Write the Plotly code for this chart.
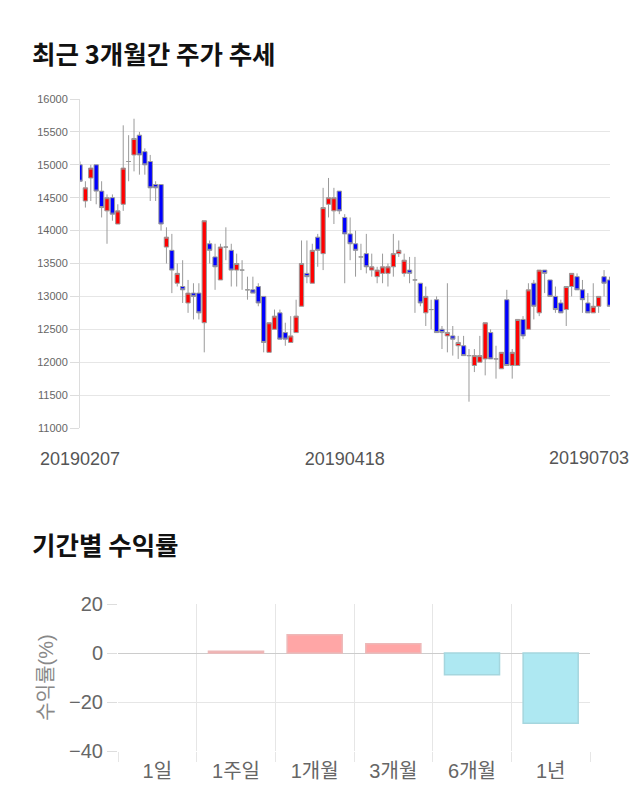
import plotly.graph_objects as go

# ---- Candlestick data (daily, 20190207 .. 20190703) ----
opens = [15000, 14450, 14800, 15000, 14600, 14300, 14500, 14100, 14400, 15050,
         15150, 15450, 15200, 15050, 14700, 14700, 13750, 13700, 13200, 13150,
         12900, 13050, 13050, 12600, 13800, 13600, 13250, 13750, 13700, 13400,
         13400, 13100, 13100, 13150, 13000, 12150, 12500, 12750, 12450, 12300,
         12450, 12850, 13350, 13200, 13900, 13650, 14400, 14300, 14600, 14200,
         13950, 13800, 13600, 13650, 13400, 13300, 13350, 13350, 13450, 13650,
         13350, 13400, 13250, 13200, 12750, 12800, 12950, 12500, 12400, 12400,
         12250, 12250, 12100, 11950, 12000, 12050, 12450, 12050, 11900, 12950,
         11950, 11950, 12650, 12500, 13200, 12750, 13400, 13250, 13000, 12900,
         12800, 13150, 13300, 13100, 12900, 12750, 12850, 13300, 13250]
highs = [15050, 14750, 15000, 15000, 14750, 14550, 14550, 14400, 15600, 15450,
         15700, 15500, 15250, 15150, 14750, 14700, 14050, 13950, 13500, 13550,
         13250, 13200, 13200, 14150, 13850, 13800, 13800, 14050, 13800, 13650,
         13550, 13300, 13300, 13200, 13000, 12600, 12800, 12800, 12600, 12700,
         12950, 13850, 13850, 13800, 13950, 14650, 14800, 14650, 14600, 14250,
         14200, 14000, 13800, 13950, 13650, 13450, 13650, 13500, 13950, 13850,
         13650, 13600, 13600, 13200, 13150, 12950, 13000, 12550, 13200, 12550,
         12400, 12400, 12200, 12200, 12400, 12600, 12500, 12250, 12150, 13100,
         12200, 12650, 12700, 13200, 13250, 13400, 13400, 13250, 13150, 12950,
         13150, 13350, 13350, 13250, 13050, 13200, 13000, 13400, 13300]
lows = [14750, 14350, 14450, 14400, 14200, 13800, 14150, 14100, 14300, 14750,
        14900, 14850, 14850, 14450, 14450, 14000, 13500, 13050, 13150, 12900,
        12750, 12650, 12650, 12150, 13500, 13100, 13250, 13550, 13150, 13150,
        13100, 12950, 13050, 12850, 12150, 12150, 12500, 12350, 12250, 12300,
        12450, 12850, 13200, 13200, 13450, 13400, 14200, 14100, 14250, 13200,
        13550, 13300, 13400, 13350, 13300, 13200, 13200, 13150, 13300, 13600,
        13300, 13200, 12750, 12850, 12550, 12500, 12450, 12200, 12150, 12100,
        12050, 12100, 11400, 11850, 12000, 11800, 12050, 11750, 11900, 11950,
        11750, 11950, 12350, 12500, 12650, 12700, 13050, 13000, 12750, 12750,
        12550, 13000, 13100, 12750, 12750, 12750, 12750, 13000, 12850]
closes = [14750, 14650, 14950, 14600, 14350, 14500, 14250, 14300, 14950, 15050,
          15400, 15150, 15000, 14650, 14650, 14100, 13900, 13400, 13350, 13100,
          13050, 13000, 12750, 14150, 13700, 13450, 13750, 13750, 13400, 13500,
          13400, 13100, 13050, 12900, 12300, 12600, 12700, 12350, 12350, 12400,
          12700, 13500, 13300, 13700, 13700, 14350, 14500, 14500, 14300, 13950,
          13800, 13700, 13600, 13450, 13450, 13400, 13450, 13450, 13650, 13700,
          13550, 13350, 13250, 12900, 13000, 12800, 12450, 12450, 12450, 12350,
          12300, 12100, 12100, 12100, 12100, 12600, 12050, 12050, 12150, 11950,
          12150, 12650, 12400, 13100, 12850, 13400, 13350, 13000, 12800, 12750,
          13150, 13350, 13100, 12950, 12750, 12850, 13000, 13200, 12850]
date_tick_labels = ["20190207", "20190418", "20190703"]
date_tick_index = [0, 49, 98]

# ---- Period return data ----
periods = ["1일", "1주일", "1개월", "3개월", "6개월", "1년"]
returns = [0.0, 0.7, 7.4, 3.8, -8.9, -28.7]

W, H = 640, 810
idx = list(range(len(opens)))

fig = go.Figure()
fig.add_trace(go.Candlestick(
    x=idx, open=opens, high=highs, low=lows, close=closes,
    increasing=dict(fillcolor="#FF0000", line=dict(color="#9A9A9A", width=1)),
    decreasing=dict(fillcolor="#0000FF", line=dict(color="#9A9A9A", width=1)),
    whiskerwidth=0, xaxis="x", yaxis="y", showlegend=False, hoverinfo="skip",
))

bar_colors = ["#FFA6A6" if v >= 0 else "#AEE8F2" for v in returns]
bar_lines = ["#EDB8B8" if v >= 0 else "#A5D6DE" for v in returns]
bar_line_w = [1.5 if v != 0 else 0 for v in returns]
fig.add_trace(go.Bar(
    x=periods, y=returns, width=0.7,
    marker=dict(color=bar_colors, line=dict(color=bar_lines, width=bar_line_w)),
    xaxis="x2", yaxis="y2", showlegend=False, hoverinfo="skip",
))

num_font = "Liberation Sans, Arial, Noto Sans CJK KR, sans-serif"
kr_bold = "Noto Sans CJK KR, sans-serif"

fig.update_layout(
    width=W, height=H,
    margin=dict(l=0, r=0, t=0, b=0),
    paper_bgcolor="white", plot_bgcolor="white",
    boxgap=0.2, boxgroupgap=0,
    xaxis=dict(
        domain=[80 / W, 610 / W], anchor="y", range=[0, 98.1],
        rangeslider=dict(visible=False),
        showgrid=False, zeroline=False, showline=False,
        tickmode="array", tickvals=date_tick_index[:2], ticktext=date_tick_labels[:2],
        ticks="", ticklabelstandoff=18,
        tickfont=dict(family=num_font, size=18, color="#555555"),
        automargin=False,
    ),
    yaxis=dict(
        domain=[(H - 428) / H, (H - 99) / H], anchor="x",
        range=[11000, 16000], dtick=500, tick0=11000, tickformat="d",
        showgrid=True, gridcolor="#E6E6E6", gridwidth=1,
        zeroline=False, showline=True, linecolor="#DDDDDD", linewidth=1,
        ticks="outside", ticklen=9, tickcolor="#DDDDDD",
        tickfont=dict(family=num_font, size=11, color="#666666"),
        automargin=False,
    ),
    xaxis2=dict(
        domain=[118 / W, 590 / W], anchor="y2",
        type="category", tickson="boundaries",
        showgrid=True, gridcolor="#E6E6E6", zeroline=False, showline=False,
        ticks="outside", ticklen=10, tickcolor="#E6E6E6", ticklabelstandoff=6,
        tickfont=dict(family=num_font, size=20, color="#666666"),
        automargin=False,
    ),
    yaxis2=dict(
        domain=[(H - 751) / H, (H - 604) / H], anchor="x2",
        range=[-40, 20], dtick=20,
        showgrid=True, gridcolor="#E6E6E6",
        zeroline=True, zerolinecolor="#CCCCCC", zerolinewidth=1,
        showline=False,
        ticks="outside", ticklen=10, tickcolor="#DDDDDD",
        tickfont=dict(family=num_font, size=20, color="#666666"),
        title=dict(text="수익률(%)", font=dict(family=num_font, size=20, color="#888888"), standoff=10),
        automargin=False,
    ),
    annotations=[
        dict(text="<b>최근 3개월간 주가 추세</b>", xref="paper", yref="paper",
             x=30 / W, y=(H - 52) / H, xanchor="left", yanchor="middle",
             showarrow=False, font=dict(family=kr_bold, size=25.5, color="#111111")),
        dict(text="<b>기간별 수익률</b>", xref="paper", yref="paper",
             x=30 / W, y=(H - 543) / H, xanchor="left", yanchor="middle",
             showarrow=False, font=dict(family=kr_bold, size=25.5, color="#111111")),
        dict(text=date_tick_labels[2], xref="x", yref="paper",
             x=date_tick_index[2], y=(H - 458) / H, xanchor="right", yanchor="middle",
             xshift=22, showarrow=False,
             font=dict(family=num_font, size=18, color="#555555")),
    ],
)

fig.write_html("out.html")
